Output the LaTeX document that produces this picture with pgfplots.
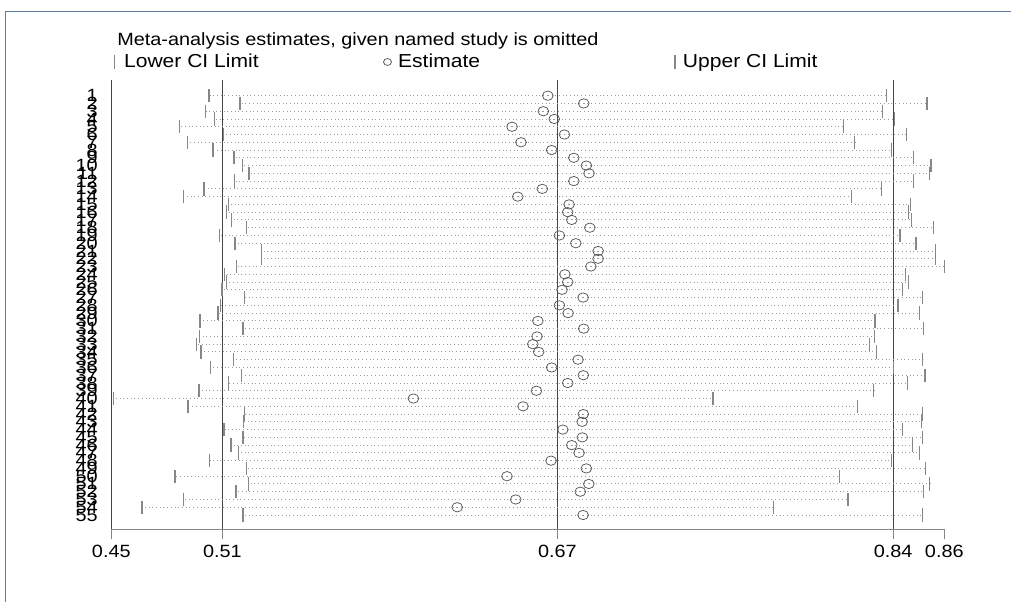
\documentclass[border=0pt]{standalone}
\usepackage{fontspec}
\setmainfont{Liberation Sans}[FakeStretch=1.12]
\usepackage{pgfplots}
\pgfplotsset{compat=1.18}
\usepackage{pgfplotstable}

\definecolor{tickgray}{RGB}{135,135,135}
\definecolor{dotgray}{RGB}{155,155,155}
\definecolor{circgray}{RGB}{85,85,85}
\definecolor{refgray}{RGB}{70,70,70}
\definecolor{framecol}{RGB}{95,125,160}

\pgfplotsset{
  mark legend/.style={legend image code/.code={\draw[##1] plot coordinates {(0pt,0pt)};}},
  small circle legend/.style={legend image code/.code={\draw[##1, mark size=2.6pt] plot coordinates {(0pt,0pt)};}},
}

% study omitted, lower CI, estimate, upper CI
\pgfplotstableread{
row lo est up
1 0.5011 0.6680 0.8350
2 0.5164 0.6857 0.8548
3 0.4995 0.6658 0.8327
4 0.5037 0.6712 0.8386
5 0.4867 0.6504 0.8138
6 0.5082 0.6762 0.8446
7 0.4906 0.6548 0.8192
8 0.5031 0.6699 0.8374
9 0.5134 0.6808 0.8483
10 0.5175 0.6870 0.8567
11 0.5208 0.6883 0.8562
12 0.5138 0.6808 0.8483
13 0.4987 0.6653 0.8325
14 0.4885 0.6532 0.8177
15 0.5108 0.6785 0.8466
16 0.5099 0.6778 0.8458
17 0.5123 0.6798 0.8473
18 0.5195 0.6887 0.8579
19 0.5062 0.6737 0.8415
20 0.5139 0.6818 0.8494
21 0.5269 0.6928 0.8588
22 0.5269 0.6928 0.8588
23 0.5148 0.6892 0.8633
24 0.5087 0.6764 0.8441
25 0.5099 0.6778 0.8456
26 0.5075 0.6750 0.8429
27 0.5187 0.6854 0.8524
28 0.5067 0.6737 0.8405
29 0.5056 0.6780 0.8509
30 0.4967 0.6631 0.8292
31 0.5179 0.6857 0.8530
32 0.4966 0.6627 0.8289
33 0.4951 0.6606 0.8266
34 0.4972 0.6635 0.8299
35 0.5131 0.6829 0.8527
36 0.5018 0.6699 0.8381
37 0.5170 0.6855 0.8538
38 0.5106 0.6778 0.8451
39 0.4962 0.6624 0.8286
40 0.4541 0.6018 0.7494
41 0.4908 0.6558 0.8207
42 0.5185 0.6855 0.8527
43 0.5182 0.6849 0.8519
44 0.5085 0.6754 0.8427
45 0.5179 0.6850 0.8527
46 0.5120 0.6798 0.8476
47 0.5156 0.6834 0.8510
48 0.5015 0.6696 0.8374
49 0.5197 0.6870 0.8542
50 0.4844 0.6479 0.8116
51 0.5205 0.6882 0.8562
52 0.5144 0.6840 0.8530
53 0.4885 0.6522 0.8159
54 0.4681 0.6234 0.7790
55 0.5179 0.6854 0.8527
}\omitted

\begin{document}
\fontsize{13.3}{16}\selectfont
\begin{tikzpicture}
\useasboundingbox (-83.475pt,-54.525pt) rectangle (674.775pt,396.975pt);
\begin{axis}[
    name=ax,
    at={(0,0)}, anchor=south west,
    scale only axis,
    width=624.75pt, height=336.975pt,
    xmin=0.453, xmax=0.8633,
    ymin=-1.02, ymax=56.84, y dir=reverse,
    axis x line*=bottom, axis y line*=left,
    x axis line style={draw=tickgray, line width=0.75pt},
    y axis line style={draw=refgray, line width=0.6pt},
    xtick={0.453,0.5077,0.6727,0.8381,0.8633},
    xticklabels={0.45,0.51,0.67,0.84,0.86},
    ytick={1,...,55},
    tick align=outside,
    major tick length=7.5pt,
    x tick style={draw=tickgray, line width=0.75pt},
    ytick style={draw=none},
    tick label style={font=\fontsize{13.3}{16}\selectfont},
    yticklabel style={anchor=east, xshift=2pt},
    /pgf/number format/assume math mode=true,
    clip=false,
    legend columns=3,
    legend style={draw=none, fill=none, at={(0,1)}, anchor=west,
      xshift=-1.03pt, yshift=13.5pt,
      font=\fontsize{14.1}{16}\selectfont,
      nodes={inner sep=2pt}, cells={anchor=west}},
    mark legend,
]
% reference lines at the pooled lower limit, estimate and upper limit
\addplot[refgray, line width=0.6pt, forget plot] coordinates {(0.5077,-1.02) (0.5077,56.84)};
\addplot[refgray, line width=0.6pt, forget plot] coordinates {(0.6727,-1.02) (0.6727,56.84)};
\addplot[refgray, line width=0.6pt, forget plot] coordinates {(0.8381,-1.02) (0.8381,56.84)};
% dotted CI lines, drawn as error bars round the estimate
\addplot[forget plot, draw=none, mark=none,
  error bars/.cd, x dir=both, x explicit, error mark=none,
  error bar style={draw=dotgray, line width=0.7pt, dash pattern=on 0.7pt off 2.08pt}]
  table[x=est, y=row,
    x error plus expr=\thisrow{up}-\thisrow{est},
    x error minus expr=\thisrow{est}-\thisrow{lo}] {\omitted};
\addplot[only marks, mark=|, mark size=5pt, mark options={draw=tickgray, line width=0.9pt}]
  table[x=lo, y=row] {\omitted};
\addlegendentry{\makebox[198pt][l]{\hspace{5.45pt}Lower CI Limit}}
\addplot[only marks, mark=o, mark size=3.5pt,
  mark options={draw=circgray, fill=none, line width=0.55pt, xscale=1.15},
  small circle legend]
  table[x=est, y=row] {\omitted};
\addlegendentry{\makebox[208.6pt][l]{\hspace{3pt}Estimate}}
\addplot[only marks, mark=|, mark size=5pt, mark options={draw=tickgray, line width=0.9pt}]
  table[x=up, y=row] {\omitted};
\addlegendentry{\hspace{4pt}Upper CI Limit}
\end{axis}
\node[anchor=base west, inner sep=0pt] at ([xshift=4.3pt, yshift=25.5pt]ax.north west)
  {Meta-analysis estimates, given named study is omitted};
\draw[framecol, line width=0.9pt] (-79.35pt,-54.525pt) -- (-79.35pt,388.2pt) -- (674.775pt,388.2pt);
\end{tikzpicture}
\end{document}
